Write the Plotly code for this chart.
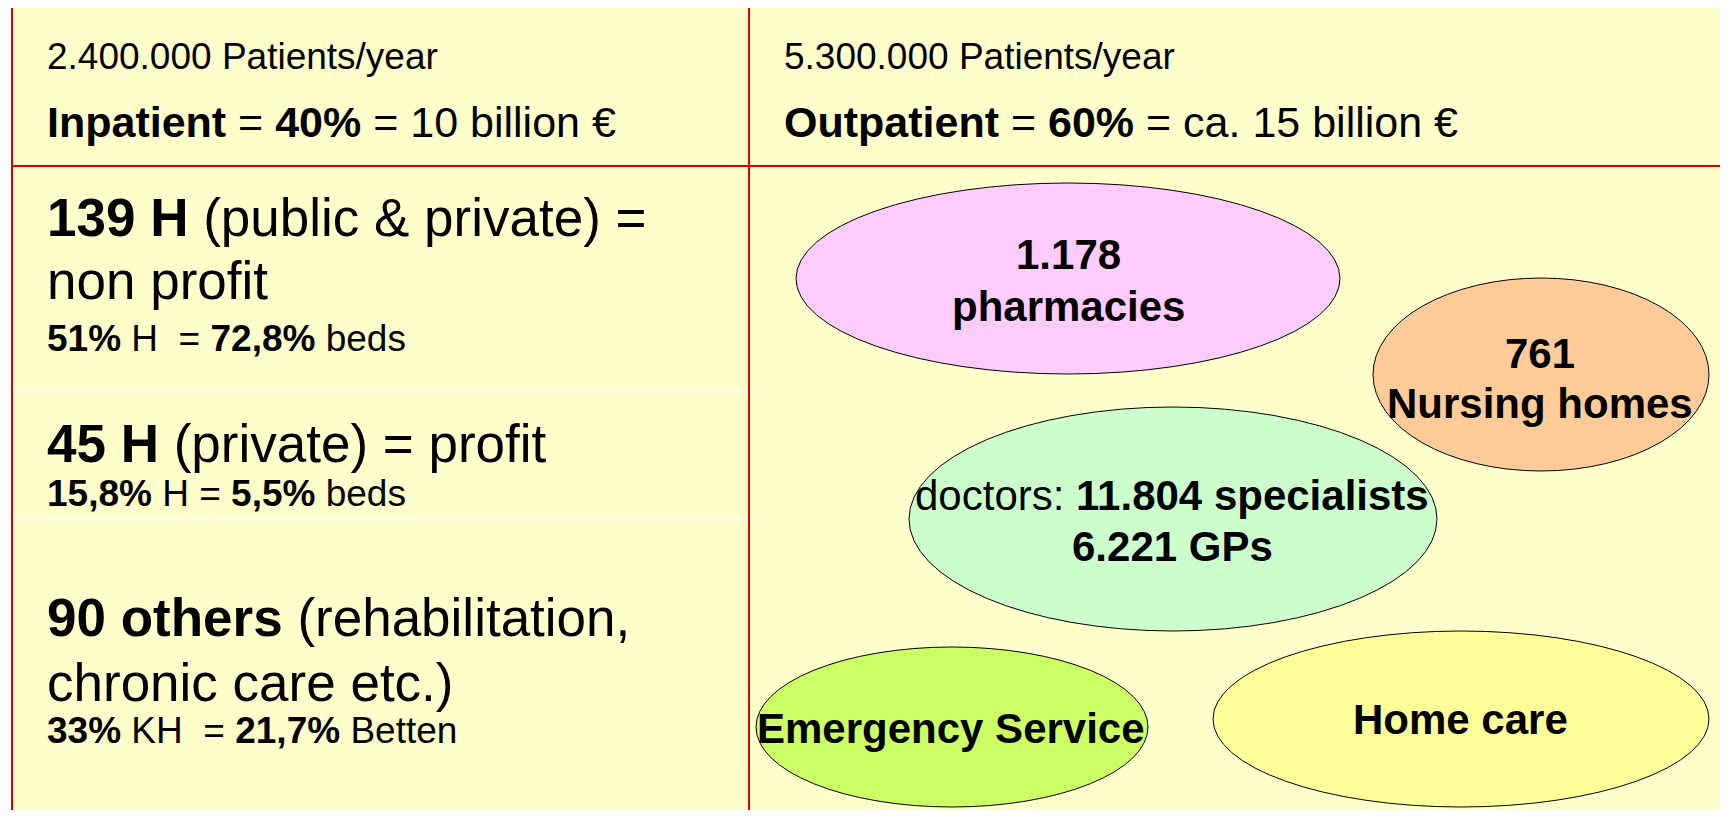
import plotly.graph_objects as go

W, H = 1728, 818
OFF = 8  # default page margin of the html body
FONT = "Liberation Sans, Arial, sans-serif"
NB = "\u00a0"

# ---------------- data ----------------
patients_per_year = ["2.400.000", "5.300.000"]
sector_names = ["Inpatient", "Outpatient"]
sector_shares = ["40%", "60%"]
sector_costs = ["10 billion €", "ca. 15 billion €"]

hospital_counts = ["139 H", "45 H", "90 others"]
hospital_types = [["(public & private) =", "non profit"],
                  ["(private) = profit"],
                  ["(rehabilitation,", "chronic care etc.)"]]
hospital_share_h = ["51%", "15,8%", "33%"]
hospital_unit = ["H" + NB, "H", "KH" + NB]
hospital_share_beds = ["72,8%", "5,5%", "21,7%"]
beds_word = ["beds", "beds", "Betten"]

pharmacies = "1.178"
nursing_homes = "761"
specialists = "11.804"
gps = "6.221"

# ---------------- geometry / style ----------------
frame_left, frame_top, divider_x, header_bottom = 12, 6, 749, 166
left_separators = [390, 518]
line_red = "#E00000"
panel_fill = "#FFFFCC"

fig = go.Figure()
shapes = []
ann = []

shapes.append(dict(type="rect", x0=frame_left, x1=W + 20, y0=frame_top, y1=H + 20,
                   fillcolor=panel_fill, line=dict(color=line_red, width=2), layer="below"))
for ys in left_separators:
    shapes.append(dict(type="line", x0=frame_left + 1, x1=divider_x - 1, y0=ys, y1=ys,
                       line=dict(color="white", width=2)))
shapes.append(dict(type="line", x0=frame_left, x1=W + 20, y0=header_bottom, y1=header_bottom,
                   line=dict(color=line_red, width=2)))
shapes.append(dict(type="line", x0=divider_x, x1=divider_x, y0=frame_top, y1=H + 20,
                   line=dict(color=line_red, width=2)))


def text(x, y, s, size, anchor="left", bold=False):
    if bold:
        s = "<b>" + s + "</b>"
    ann.append(dict(x=x, y=y, xref="x", yref="y", text=s, showarrow=False,
                    xanchor=anchor, yanchor="middle", align=anchor,
                    font=dict(family=FONT, size=size, color="black")))


# headers
header_x = [45, 782]
for i in range(2):
    text(header_x[i], 56, patients_per_year[i] + " Patients/year", 37)
    text(header_x[i], 122, "<b>%s</b> = <b>%s</b> = %s" % (sector_names[i], sector_shares[i], sector_costs[i]), 43)

# left body
big_lines_y = [[217, 280], [443], [617, 682]]
small_line_y = [338, 493, 730]
for i in range(3):
    ys = big_lines_y[i]
    text(45, ys[0], "<b>%s</b> %s" % (hospital_counts[i], hospital_types[i][0]), 53)
    if len(hospital_types[i]) > 1:
        text(45, ys[1], hospital_types[i][1], 53)
    text(45, small_line_y[i], "<b>%s</b> %s = <b>%s</b> %s" % (
        hospital_share_h[i], hospital_unit[i], hospital_share_beds[i], beds_word[i]), 37)

# ellipses
ellipses = [
    dict(x0=796, x1=1340, y0=183, y1=374, fill="#FFCCFF"),
    dict(x0=1373, x1=1709, y0=278, y1=471, fill="#FFCC99"),
    dict(x0=909, x1=1437, y0=407, y1=631, fill="#CCFFCC"),
    dict(x0=756, x1=1148, y0=647, y1=807, fill="#CCFF66"),
    dict(x0=1213, x1=1709, y0=631, y1=807, fill="#FFFF99"),
]
for e in ellipses:
    shapes.append(dict(type="circle", x0=e["x0"], x1=e["x1"], y0=e["y0"], y1=e["y1"],
                       fillcolor=e["fill"], line=dict(color="black", width=1), layer="below"))

EF = 42
text(1068, 254, pharmacies, EF, "center", True)
text(1068, 306, "pharmacies", EF, "center", True)
text(1540, 353, nursing_homes, EF, "center", True)
text(1540, 403, "Nursing homes", EF, "center", True)
text(1172, 495, "doctors: <b>%s specialists</b>" % specialists, 42, "center")
text(1172, 546, "%s GPs" % gps, EF, "center", True)
text(951, 728, "Emergency Service", EF, "center", True)
text(1460, 719, "Home care", EF, "center", True)

fig.update_layout(
    width=W - OFF, height=H - 2 * OFF, margin=dict(l=0, r=0, t=0, b=0),
    paper_bgcolor="white", plot_bgcolor="white",
    xaxis=dict(range=[OFF, W], visible=False, fixedrange=True),
    yaxis=dict(range=[H - OFF, OFF], visible=False, fixedrange=True),
    shapes=shapes, annotations=ann, showlegend=False,
)
fig.write_html("out.html", config={"displayModeBar": False})
